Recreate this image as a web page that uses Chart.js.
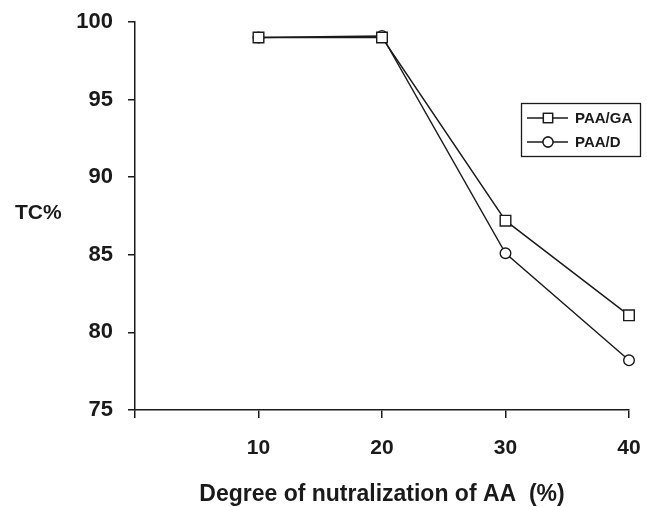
<!DOCTYPE html>
<html>
<head>
<meta charset="utf-8">
<script src="https://cdn.jsdelivr.net/npm/chart.js@4/dist/chart.umd.min.js"></script>
<style>
  html, body { margin: 0; padding: 0; background: #fff; }
  #wrap { width: 647px; height: 507px; }
</style>
</head>
<body>
<div id="wrap"><canvas id="chart" width="647" height="507"></canvas></div>
<script>
// degree of neutralization of AA (%)
const degrees = [10, 20, 30, 40]
// TC% for each crosslinker
const paaGA = [99.0, 99.0, 87.2, 81.1]
const paaD = [99.0, 99.1, 85.1, 78.2]
const seriesLabels = ["PAA/GA", "PAA/D"]
const xTicks = [0, 10, 20, 30, 40]
const yTicks = [75, 80, 85, 90, 95, 100]

const ink = "#1a1a1a"
const fontFamily = "'Liberation Sans', Arial, sans-serif"

// little boxed legend + horizontal "TC%" label
const extras = {
  id: "extras",
  afterDraw(chart) {
    const ctx = chart.ctx
    ctx.save()
    ctx.fillStyle = ink
    ctx.font = "bold 21px " + fontFamily
    ctx.textBaseline = "middle"
    ctx.textAlign = "left"
    ctx.fillText("TC%", 15, 213)

    // legend box
    ctx.strokeStyle = ink
    ctx.lineWidth = 1.3
    ctx.strokeRect(521.5, 103.5, 119, 53)
    chart.data.datasets.forEach((ds, i) => {
      const y = 118 + i * 24
      ctx.beginPath()
      ctx.moveTo(527, y)
      ctx.lineTo(568, y)
      ctx.stroke()
      ctx.fillStyle = "#fff"
      Chart.helpers.drawPoint(ctx, {
        pointStyle: ds.pointStyle,
        radius: ds.pointStyle === "rect" ? 6.5 : 5,
        borderWidth: 1.3
      }, 548, y)
      ctx.fill()
      ctx.stroke()
      ctx.fillStyle = ink
      ctx.font = "bold 15px " + fontFamily
      ctx.fillText(ds.label, 575, y + 1)
    })
    ctx.restore()
  }
}

const makeSet = (label, values, style, r) => ({
  label,
  data: degrees.map((d, i) => ({ x: d, y: values[i] })),
  borderColor: ink,
  borderWidth: 1.4,
  pointStyle: style,
  pointRadius: r,
  pointBackgroundColor: "#fff",
  pointBorderColor: ink,
  pointBorderWidth: 1.4,
  tension: 0,
  clip: false
})

new Chart(document.getElementById("chart"), {
  type: "line",
  data: {
    datasets: [
      makeSet(seriesLabels[0], paaGA, "rect", 7.5),
      makeSet(seriesLabels[1], paaD, "circle", 5.3)
    ]
  },
  options: {
    responsive: false,
    animation: false,
    layout: { padding: { top: 22, right: 18, left: 0, bottom: 0 } },
    plugins: { legend: { display: false }, tooltip: { enabled: false } },
    scales: {
      x: {
        type: "linear",
        min: 0,
        max: 40,
        afterBuildTicks: s => { s.ticks = xTicks.map(v => ({ value: v })) },
        afterFit: s => {
          s.height = 97
          s.paddingLeft = 0
          s.paddingRight = 0
        },
        border: { color: ink, width: 1.5 },
        grid: { drawOnChartArea: false, drawTicks: true, tickLength: 8, color: ink, lineWidth: 1.5 },
        ticks: {
          color: ink,
          padding: 18,
          maxRotation: 0,
          font: { family: fontFamily, size: 21, weight: "bold" },
          callback: v => (v === 0 ? "" : v)
        },
        title: {
          display: true,
          text: "Degree of nutralization of AA  (%)",
          color: ink,
          padding: { top: 0, bottom: 0 },
          font: { family: fontFamily, size: 23, weight: "bold", lineHeight: 1.1 }
        }
      },
      y: {
        min: 75,
        max: 100,
        afterBuildTicks: s => { s.ticks = yTicks.map(v => ({ value: v })) },
        afterFit: s => {
          s.width = 135
          s.paddingTop = 0
          s.paddingBottom = 0
        },
        border: { color: ink, width: 1.5 },
        grid: { drawOnChartArea: false, drawTicks: true, tickLength: 7, color: ink, lineWidth: 1.5 },
        ticks: {
          color: ink,
          padding: 15,
          font: { family: fontFamily, size: 22, weight: "bold" }
        }
      }
    }
  },
  plugins: [extras]
})
</script>
</body>
</html>
